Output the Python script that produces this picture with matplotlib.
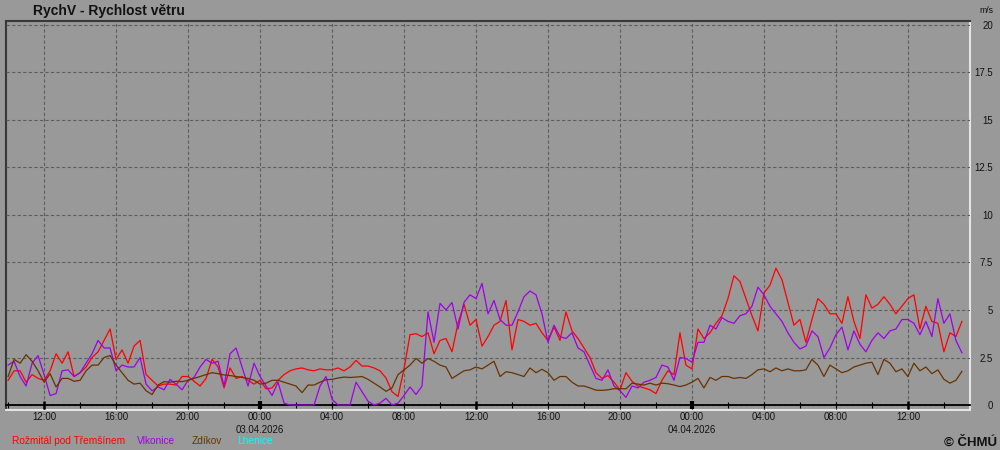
import numpy as np
import matplotlib
matplotlib.use('Agg')
import matplotlib.pyplot as plt
import matplotlib.dates as mdates
from matplotlib.ticker import FuncFormatter

# ---------------- data ----------------
title = 'RychV - Rychlost větru'
unit = 'm/s'
credit = '© ČHMÚ'
start = np.datetime64('2026-04-02T10:00')
step_minutes = 20

rozmital = [
    1.3, 1.8, 1.8, 1.2, 1.6, 1.4, 1.3, 1.8, 2.7, 2.2, 2.8, 1.5,
    1.7, 2.0, 2.5, 2.8, 3.4, 4.0, 2.4, 2.9, 2.2, 3.1, 3.4, 1.6,
    1.3, 1.0, 1.1, 1.1, 1.05, 1.5, 1.5, 1.25, 1.0, 1.4, 2.4, 2.0,
    0.9, 1.95, 1.4, 1.5, 1.3, 1.1, 1.3, 0.85, 0.9, 1.3, 1.6, 1.8,
    1.9, 1.95, 1.85, 1.8, 1.9, 1.85, 1.85, 1.95, 1.8, 2.0, 2.35, 2.05,
    2.05, 1.95, 1.8, 1.42, 0.7, 0.45, 1.9, 3.7, 3.75, 3.6, 3.8, 2.7,
    3.4, 3.5, 2.8, 4.3, 5.3, 4.2, 4.5, 3.1, 3.6, 4.2, 4.4, 5.5,
    2.9, 4.5, 4.4, 4.2, 4.3, 3.8, 3.4, 4.1, 3.4, 4.9, 3.9, 3.5,
    3.0, 2.5, 1.7, 1.4, 1.55, 1.2, 0.8, 1.7, 1.25, 1.0, 0.9, 0.8,
    0.6, 1.3, 1.8, 1.6, 3.8, 2.1, 1.9, 4.0, 3.5, 3.8, 4.3, 4.7,
    5.6, 6.8, 6.5, 5.6, 4.7, 3.9, 5.9, 6.3, 7.2, 6.6, 5.4, 4.2,
    4.5, 3.3, 4.5, 5.6, 5.3, 4.8, 4.8, 4.3, 5.7, 4.4, 3.5, 5.8,
    5.1, 5.3, 5.7, 5.3, 4.8, 5.2, 5.6, 5.8, 4.0, 5.2, 4.4, 4.3,
    2.8, 3.8, 3.6, 4.4,
]
vlkonice = [
    2.1, 2.3, 1.5, 1.0, 2.2, 2.6, 1.6, 0.5, 0.6, 1.8, 1.85, 1.5,
    1.7, 2.2, 2.7, 3.4, 3.0, 3.0, 1.8, 2.1, 2.0, 2.0, 2.5, 1.1,
    0.75, 0.95, 0.8, 1.35, 1.1, 0.8, 1.3, 1.45, 2.0, 2.4, 2.2, 2.3,
    1.0, 2.7, 3.0, 2.0, 1.0, 2.2, 1.5, 1.0, 0.5, 1.2, 0.1, 0.0,
    0.0, 0.0, 0.0, 0.0, 1.0, 1.5, 0.3, 0.0, 0.0, 0.0, 1.2, 0.7,
    0.2, 0.0, 0.1, 0.35, 0.0, 0.1, 0.5, 0.95, 0.55, 1.0, 4.9, 3.3,
    5.35, 5.0, 5.4, 4.0, 5.4, 5.8, 5.6, 6.4, 4.8, 5.5, 4.5, 4.2,
    4.2, 4.9, 5.7, 6.0, 5.8, 4.8, 3.3, 4.2, 3.6, 3.5, 3.8, 3.0,
    2.8, 2.1, 1.4, 1.3, 1.85, 1.0, 0.75, 0.4, 1.0, 0.9, 1.2, 1.3,
    1.45, 2.1, 2.0, 1.3, 2.5, 2.45, 2.25, 3.3, 3.3, 4.2, 4.0, 4.6,
    4.4, 4.3, 4.7, 4.8, 5.2, 6.2, 5.8, 5.2, 4.8, 4.4, 3.8, 3.3,
    2.95, 3.1, 3.9, 3.6, 2.5, 3.0, 3.7, 4.1, 2.9, 3.9, 3.2, 2.8,
    3.4, 3.8, 3.5, 3.9, 4.0, 4.5, 4.5, 4.3, 3.7, 4.4, 3.6, 5.6,
    4.3, 4.8, 3.4, 2.75,
]
zdikov = [
    1.5, 2.4, 2.2, 2.65, 2.3, 1.8, 1.2, 1.65, 0.95, 1.4, 1.4, 1.25,
    1.3, 1.8, 2.1, 2.1, 2.5, 2.6, 2.1, 1.7, 1.3, 1.1, 1.15, 0.75,
    0.55, 1.05, 1.23, 1.2, 1.25, 1.23, 1.3, 1.4, 1.5, 1.6, 1.7, 1.65,
    1.58, 1.55, 1.5, 1.45, 1.4, 1.3, 1.1, 1.15, 1.3, 1.3, 1.2, 1.1,
    1.0, 0.65, 1.05, 1.05, 1.2, 1.33, 1.35, 1.42, 1.47, 1.45, 1.47, 1.5,
    1.35, 1.15, 0.95, 0.72, 0.9, 1.6, 1.85, 2.1, 2.45, 2.2, 2.45, 2.3,
    2.1, 2.0, 1.4, 1.6, 1.8, 1.85, 2.0, 1.9, 2.1, 2.3, 1.5, 1.75,
    1.7, 1.6, 1.5, 1.95, 1.7, 1.88, 1.7, 1.3, 1.5, 1.5, 1.2, 1.0,
    1.0, 0.9, 0.78, 0.77, 0.8, 0.86, 0.86, 0.85, 1.15, 1.1, 1.05, 1.15,
    1.05, 1.15, 1.12, 1.05, 0.97, 1.05, 1.2, 1.4, 0.9, 1.45, 1.3, 1.5,
    1.5, 1.4, 1.45, 1.4, 1.6, 1.85, 1.9, 1.75, 1.95, 1.8, 1.9, 1.8,
    1.8, 1.85, 2.4, 2.1, 1.5, 2.1, 1.9, 1.7, 1.8, 2.0, 2.1, 2.2,
    2.25, 1.6, 2.4, 2.2, 1.75, 1.9, 1.5, 2.2, 1.8, 2.0, 1.65, 1.85,
    1.35, 1.15, 1.3, 1.77,
]
lhenice = []

station_names = ['Rožmitál pod Třemšínem', 'Vlkonice', 'Zdíkov', 'Lhenice']
station_values = [rozmital, vlkonice, zdikov, lhenice]
station_colors = ['#ff0000', '#a000e8', '#663300', '#00ffff']

y_ticks = [0, 2.5, 5, 7.5, 10, 12.5, 15, 17.5, 20]
y_tick_labels = ['0', '2.5', '5', '7.5', '10', '12.5', '15', '17.5', '20']

# ---------------- layout ----------------
W, H = 1000, 450
BG = '#999999'
plt.rcParams['font.family'] = ['Liberation Sans', 'DejaVu Sans']

fig = plt.figure(figsize=(W / 100, H / 100), dpi=100, facecolor=BG)
px_left, px_right, px_top, px_bottom = 6, 970, 21, 410
pos = [px_left / W, 1 - px_bottom / H, (px_right - px_left) / W, (px_bottom - px_top) / H]

frame = fig.add_axes(pos, zorder=0)
frame.set_facecolor(BG)
frame.set_xticks([])
frame.set_yticks([])
for s in ['top', 'left']:
    frame.spines[s].set_color('#383838')
    frame.spines[s].set_linewidth(1.5)
for s in ['bottom', 'right']:
    frame.spines[s].set_color('#e4e4e4')
    frame.spines[s].set_linewidth(1.5)

ax = fig.add_axes(pos, zorder=1)
ax.patch.set_alpha(0)
for s in ['top', 'left', 'right']:
    ax.spines[s].set_visible(False)
ax.spines['bottom'].set_position(('data', 0))
ax.spines['bottom'].set_color('black')
ax.spines['bottom'].set_linewidth(1.3)

n = len(rozmital)
times = start + np.arange(n) * np.timedelta64(step_minutes, 'm')

for name, vals, col in zip(station_names, station_values, station_colors):
    if len(vals):
        ax.plot(times[:len(vals)], vals, color=col, lw=0.9, zorder=3)

ax.set_xlim(start - np.timedelta64(7, 'm'), start + np.timedelta64(53 * 60 + 27, 'm'))
ax.set_ylim(-0.263, 20.21)

ax.xaxis.set_major_locator(mdates.HourLocator(byhour=[0, 4, 8, 12, 16, 20]))
ax.xaxis.set_minor_locator(mdates.HourLocator(byhour=list(range(0, 24, 2))))


def fmt(x, pos=None):
    d = mdates.num2date(x)
    if d.hour == 0:
        return d.strftime('%H:%M\n%d.%m.%Y')
    return d.strftime('%H:%M')


ax.xaxis.set_major_formatter(FuncFormatter(fmt))
ax.tick_params(axis='x', which='both', direction='inout', length=4.5, width=0.8,
               color='black', labelsize=6.9, pad=2.8, labelcolor='#111111')
for lab in ax.get_xticklabels():
    lab.set_linespacing(1.4)

ax.yaxis.set_ticks_position('right')
ax.set_yticks(y_ticks)
ax.set_yticklabels(y_tick_labels)
ax.tick_params(axis='y', length=0, pad=16.6, labelsize=6.9, labelcolor='#111111')
for lab in ax.get_yticklabels():
    lab.set_horizontalalignment('right')

ax.grid(True, which='major', axis='both', color='#5e5e5e',
        linestyle=(0, (3, 2)), linewidth=0.8, zorder=1)

for tick in ax.xaxis.get_major_ticks():
    d = mdates.num2date(tick.get_loc())
    if d.hour == 0:
        tick.tick1line.set_markeredgewidth(3.0)
        tick.tick1line.set_markersize(6)
    elif d.hour == 12:
        tick.tick1line.set_markeredgewidth(1.8)
        tick.tick1line.set_markersize(5.5)

# texts
fig.text(33 / W, 1 - 15.5 / H, title, fontsize=10, fontweight='bold',
         va='baseline', ha='left', color='#111111')
fig.text(993 / W, 1 - 10.5 / H, unit, fontsize=6.3, va='center', ha='right', color='#111111')
fig.text(997 / W, 1 - 446 / H, credit, fontsize=9.5, fontweight='bold',
         va='baseline', ha='right', color='#111111')

legend_x = [12, 137, 192, 237]
for lx, name, col in zip(legend_x, station_names, station_colors):
    fig.text(lx / W, 1 - 441.5 / H, name, fontsize=7.3, color=col, va='center', ha='left')

fig.savefig('out.png', dpi=100, facecolor=BG)
